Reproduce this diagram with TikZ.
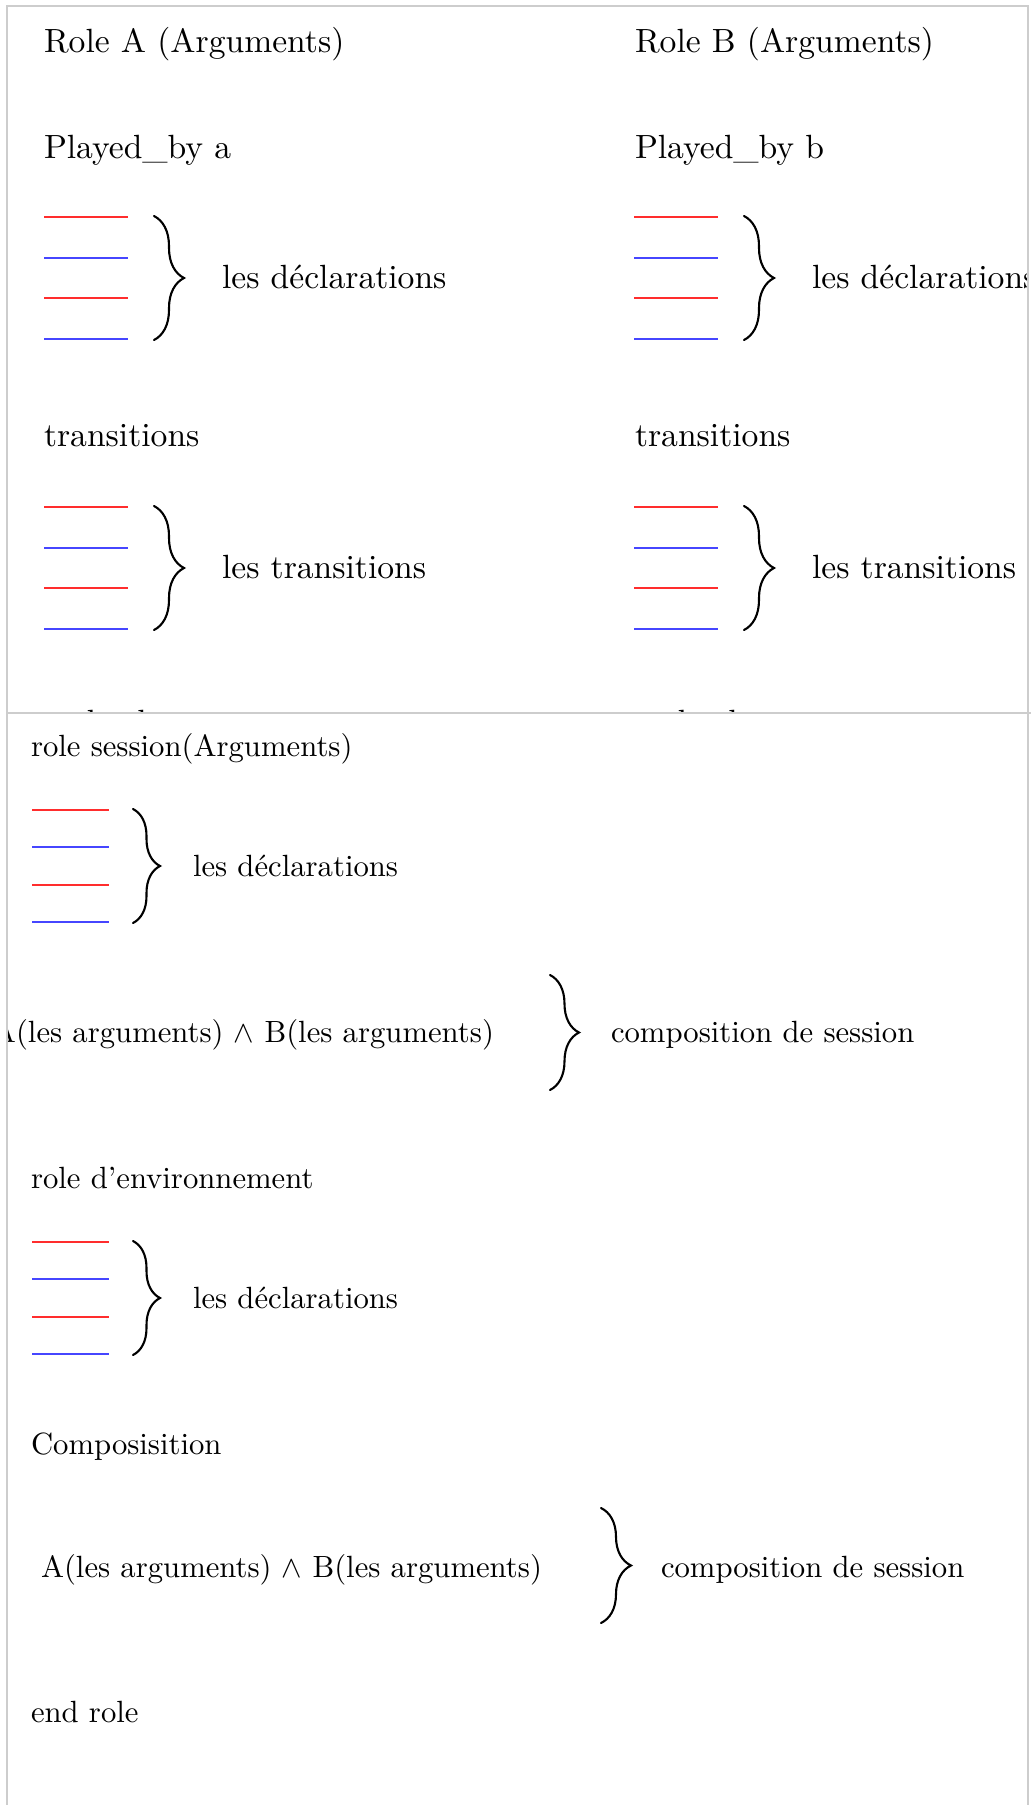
\documentclass[tikz,border=0pt]{standalone}
\usepackage{fontspec}
\usepackage{graphicx}
\usetikzlibrary{decorations.pathreplacing}
\definecolor{lred}{RGB}{255,45,45}
\definecolor{lblue}{RGB}{70,70,255}
\definecolor{framegray}{RGB}{205,205,205}
\newcommand{\topsz}[1]{\scalebox{3.36}{#1}}
\newcommand{\botsz}[1]{\scalebox{3.07}{#1}}
\begin{document}
\begin{tikzpicture}[x=1pt,y=-1pt,
  txt/.style={anchor=base west, inner sep=0pt, outer sep=0pt},
  frameline/.style={draw=framegray, line width=1.5pt},
  brc/.style={decorate, decoration={brace, amplitude=#1}, line width=2.1pt, line cap=round},
  rl/.style={draw=lred, line width=2.2pt},
  bl/.style={draw=lblue, line width=2.2pt}]
\useasboundingbox (0,0) rectangle (1031,1805);
\fill[white] (0,0) rectangle (1031,1805);

% ---------------- top panel ----------------
\begin{scope}
\clip (7,6) rectangle (1028,713);
\node[txt] (roleA) at (44,52) {\topsz{Role A (Arguments)}};
\node[txt] (roleB) at (635,52) {\topsz{Role B (Arguments)}};
\node[txt] (playA) at (44,158) {\topsz{Played\_by a}};
\node[txt] (playB) at (635,158) {\topsz{Played\_by b}};
\foreach \ox in {44,634}{
  \foreach \oy in {0,290}{
    \draw[rl] (\ox,217+\oy) -- (\ox+84,217+\oy);
    \draw[bl] (\ox,257.7+\oy) -- (\ox+84,257.7+\oy);
    \draw[rl] (\ox,298.3+\oy) -- (\ox+84,298.3+\oy);
    \draw[bl] (\ox,339+\oy) -- (\ox+84,339+\oy);
    \draw[brc=30pt] (\ox+110,216+\oy) -- (\ox+110,340+\oy);
  }
}
\node[txt] (declA) at (222,288) {\topsz{les déclarations}};
\node[txt] (declB) at (812,288) {\topsz{les déclarations}};
\node[txt] (transA) at (44,446) {\topsz{transitions}};
\node[txt] (transB) at (635,446) {\topsz{transitions}};
\node[txt] (ltransA) at (222,578) {\topsz{les transitions}};
\node[txt] (ltransB) at (812,578) {\topsz{les transitions}};
\node[txt] (endA) at (44,733.5) {\topsz{end role}};
\node[txt] (endB) at (635,733.5) {\topsz{end role}};
\end{scope}
\draw[frameline] (7,713) -- (7,6) -- (1028,6) -- (1028,713);

% ---------------- bottom panel ----------------
\begin{scope}
\clip (7,713) rectangle (1028,1805);
\node[txt] (sess) at (31,756) {\botsz{role session(Arguments)}};
\foreach \oy in {0,432}{
  \draw[rl] (32,810+\oy) -- (109,810+\oy);
  \draw[bl] (32,847+\oy) -- (109,847+\oy);
  \draw[rl] (32,885+\oy) -- (109,885+\oy);
  \draw[bl] (32,922+\oy) -- (109,922+\oy);
  \draw[brc=27pt] (133,809+\oy) -- (133,923+\oy);
}
\node[txt] (decl1) at (193,876) {\botsz{les déclarations}};
\node[txt] (comp1) at (-7,1042) {\botsz{A(les arguments) $\wedge$ B(les arguments)}};
\draw[brc=29pt] (550,975) -- (550,1090);
\node[txt] (cs1) at (611,1042) {\botsz{composition de session}};
\node[txt] (env) at (31,1188) {\botsz{role d'environnement}};
\node[txt] (decl2) at (193,1308) {\botsz{les déclarations}};
\node[txt] (compo) at (31,1454) {\botsz{Composisition}};
\node[txt] (comp2) at (41,1577) {\botsz{A(les arguments) $\wedge$ B(les arguments)}};
\draw[brc=30pt] (601,1508) -- (601,1623);
\node[txt] (cs2) at (661,1577) {\botsz{composition de session}};
\node[txt] (endr) at (31,1722) {\botsz{end role}};
\end{scope}
\draw[frameline] (7,1805) -- (7,713) -- (1031,713);
\draw[frameline] (1028,713) -- (1028,1805);
\end{tikzpicture}
\end{document}
